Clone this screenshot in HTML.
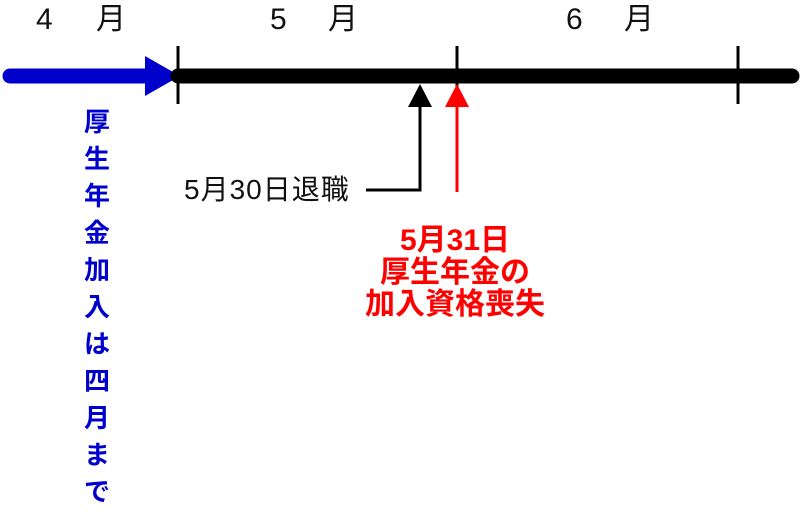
<!DOCTYPE html>
<html><head><meta charset="utf-8"><style>
body{margin:0;width:800px;height:456px;overflow:hidden;background:#fff;position:relative;font-family:"Liberation Sans","Noto Sans CJK JP",sans-serif}
.m{position:absolute;top:0px;font-size:30px;line-height:40px;color:#111;white-space:nowrap}
.v{position:absolute;left:79px;top:104px;width:36px;text-align:center;color:#0000cc;font-weight:bold;font-size:26px;line-height:37px}
.r{position:absolute;left:305px;top:225px;width:300px;text-align:center;color:#ff0000;font-weight:bold;font-size:30px;line-height:32px}
.k{position:absolute;left:184px;top:172px;font-size:28px;line-height:36px;color:#111;letter-spacing:1px;white-space:nowrap}
</style></head><body>
<div class="m" style="left:36px">4</div><div class="m" style="left:96px">月</div>
<div class="m" style="left:270px">5</div><div class="m" style="left:328px">月</div>
<div class="m" style="left:566px">6</div><div class="m" style="left:624px">月</div>
<svg width="800" height="456" style="position:absolute;left:0;top:0">
<line x1="10" y1="76" x2="150" y2="76" stroke="#0000cc" stroke-width="15" stroke-linecap="round"/>
<polygon points="145,56 180,76 145,96" fill="#0000cc"/>
<line x1="178" y1="76" x2="792" y2="76" stroke="#000" stroke-width="15" stroke-linecap="round"/>
<line x1="178" y1="46" x2="178" y2="104" stroke="#000" stroke-width="3"/>
<line x1="457" y1="46" x2="457" y2="104" stroke="#000" stroke-width="3"/>
<line x1="738" y1="46" x2="738" y2="104" stroke="#000" stroke-width="3"/>
<polygon points="420,84 408,107 432,107" fill="#000"/>
<polyline points="420,105 420,190 366,190" fill="none" stroke="#000" stroke-width="3"/>
<polygon points="457,84 445,107 469,107" fill="#ff0000"/>
<line x1="457" y1="105" x2="457" y2="192" stroke="#ff0000" stroke-width="3"/>
</svg>
<div class="k">5月30日退職</div>
<div class="r">5月31日<br>厚生年金の<br>加入資格喪失</div>
<div class="v">厚<br>生<br>年<br>金<br>加<br>入<br>は<br>四<br>月<br>ま<br>で</div>
</body></html>
